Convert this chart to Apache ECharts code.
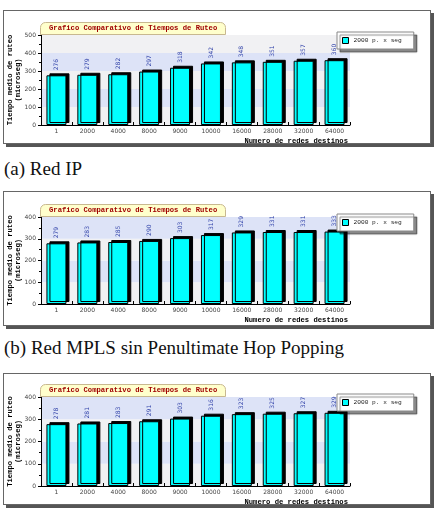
<!DOCTYPE html>
<html lang="es">
<head>
    <meta charset="UTF-8">
    <title>Grafico Comparativo de Tiempos de Ruteo</title>
    <script src="https://cdn.jsdelivr.net/npm/echarts@6/dist/echarts.min.js"></script>
    <style>
        body { margin: 0; background: #fff; width: 439px; height: 515px; position: relative; overflow: hidden; }
        .panel {
            position: absolute;
            left: 3px;
            width: 428px;
            border: 1px solid #666;
            box-shadow: 3px 3px 0 #555;
            background: #fff;
            box-sizing: border-box;
        }
        .panel .chart { width: 100%; height: 100%; }
        .caption {
            position: absolute;
            left: 4px;
            font-family: "Liberation Serif", "DejaVu Serif", serif;
            font-size: 19px;
            line-height: 19px;
            color: #111;
            white-space: nowrap;
        }
    </style>
</head>
<body>

    <div class="panel" style="top:10px;height:134px"><div class="chart" id="chart_ip"></div></div>
    <div class="caption" style="top:159px">(a) Red IP</div>

    <div class="panel" style="top:191px;height:135px"><div class="chart" id="chart_mpls"></div></div>
    <div class="caption" style="top:338px">(b) Red MPLS sin Penultimate Hop Popping</div>

    <div class="panel" style="top:373px;height:132px"><div class="chart" id="chart_php"></div></div>

    <script>
        // datos
        var categories = ['1', '2000', '4000', '8000', '9000', '10000', '16000', '28000', '32000', '64000'];
        var valuesIP   = [276, 279, 282, 297, 318, 342, 348, 351, 357, 360];
        var valuesMPLS = [279, 283, 285, 290, 303, 317, 329, 331, 331, 333];
        var valuesPHP  = [278, 281, 283, 291, 303, 316, 323, 325, 327, 329];
        var seriesName = '2000 p. x seg';
        var titleText = 'Grafico Comparativo de Tiempos de Ruteo';
        var xName = 'Numero de redes destinos';
        var yName = 'Tiempo medio de ruteo\n(microseg)';

        var mono = '"Liberation Mono", "DejaVu Sans Mono", monospace';
        var sans = '"DejaVu Sans", Verdana, sans-serif';

        function makeOption(values, max, gridTop, gridBottom) {
            return {
                animation: false,
                title: {
                    text: titleText,
                    left: 36,
                    top: gridTop - 13,
                    padding: [2, 9, 2, 9],
                    backgroundColor: '#ffffcc',
                    borderColor: '#c8b890',
                    borderWidth: 1,
                    borderRadius: [5, 5, 0, 0],
                    textStyle: {
                        fontFamily: mono,
                        fontSize: 7.2,
                        fontWeight: 'bold',
                        color: '#a00000',
                        lineHeight: 9
                    }
                },
                legend: {
                    data: [seriesName],
                    left: 333,
                    top: gridTop - 3,
                    padding: [5, 12, 5, 5],
                    itemWidth: 6,
                    itemHeight: 6,
                    backgroundColor: '#fff',
                    borderColor: '#888',
                    borderWidth: 1,
                    shadowColor: 'rgba(0,0,0,0.45)',
                    shadowBlur: 1,
                    shadowOffsetX: 3,
                    shadowOffsetY: 3,
                    icon: 'rect',
                    itemStyle: { borderColor: '#000', borderWidth: 1 },
                    textStyle: { fontFamily: mono, fontSize: 6.2, color: '#222' }
                },
                grid: { left: 37, right: 80, top: gridTop, bottom: gridBottom, outerBoundsMode: 'none' },
                xAxis: {
                    type: 'category',
                    data: categories,
                    name: xName,
                    nameLocation: 'end',
                    nameGap: -2,
                    nameMoveOverlap: false,
                    nameTextStyle: {
                        fontFamily: mono, fontSize: 7.2, fontWeight: 'bold', color: '#000',
                        align: 'right', verticalAlign: 'top', padding: [13, 0, 0, 0]
                    },
                    axisLine: { lineStyle: { color: '#000', width: 1 } },
                    axisTick: { show: true, inside: true, length: 3, lineStyle: { color: '#000' } },
                    axisLabel: { fontFamily: sans, fontSize: 6, color: '#444', margin: 3 }
                },
                yAxis: {
                    type: 'value',
                    min: 0,
                    max: max,
                    interval: 100,
                    name: yName,
                    nameLocation: 'middle',
                    nameRotate: 90,
                    nameGap: 19,
                    nameMoveOverlap: false,
                    nameTextStyle: { fontFamily: mono, fontSize: 7.2, fontWeight: 'bold', color: '#000', lineHeight: 8 },
                    axisLine: { show: true, lineStyle: { color: '#000', width: 1 } },
                    axisTick: { show: true, length: 3, lineStyle: { color: '#000' } },
                    minorTick: { show: true, splitNumber: 2, length: 2, lineStyle: { color: '#000' } },
                    axisLabel: { fontFamily: sans, fontSize: 6, color: '#444', margin: 5 },
                    splitLine: { show: false },
                    splitArea: { show: true, areaStyle: { color: ['#f1f1f3', '#dde3f7'] } }
                },
                series: [{
                    name: seriesName,
                    type: 'bar',
                    data: values,
                    barWidth: 20,
                    itemStyle: {
                        color: '#00ffff',
                        borderColor: '#000',
                        borderWidth: 1,
                        shadowColor: '#000',
                        shadowBlur: 0,
                        shadowOffsetX: 3,
                        shadowOffsetY: -2
                    },
                    label: {
                        show: true,
                        position: 'top',
                        rotate: 90,
                        align: 'left',
                        verticalAlign: 'middle',
                        distance: 5,
                        fontFamily: sans,
                        fontSize: 6,
                        color: '#3344aa'
                    },
                    emphasis: { disabled: true }
                }]
            };
        }

        var ipChart = echarts.init(document.getElementById('chart_ip'));
        ipChart.setOption(makeOption(valuesIP, 500, 24, 18));

        var mplsChart = echarts.init(document.getElementById('chart_mpls'));
        mplsChart.setOption(makeOption(valuesMPLS, 400, 25, 21));

        var phpChart = echarts.init(document.getElementById('chart_php'));
        phpChart.setOption(makeOption(valuesPHP, 400, 23, 18));
    </script>
</body>
</html>
